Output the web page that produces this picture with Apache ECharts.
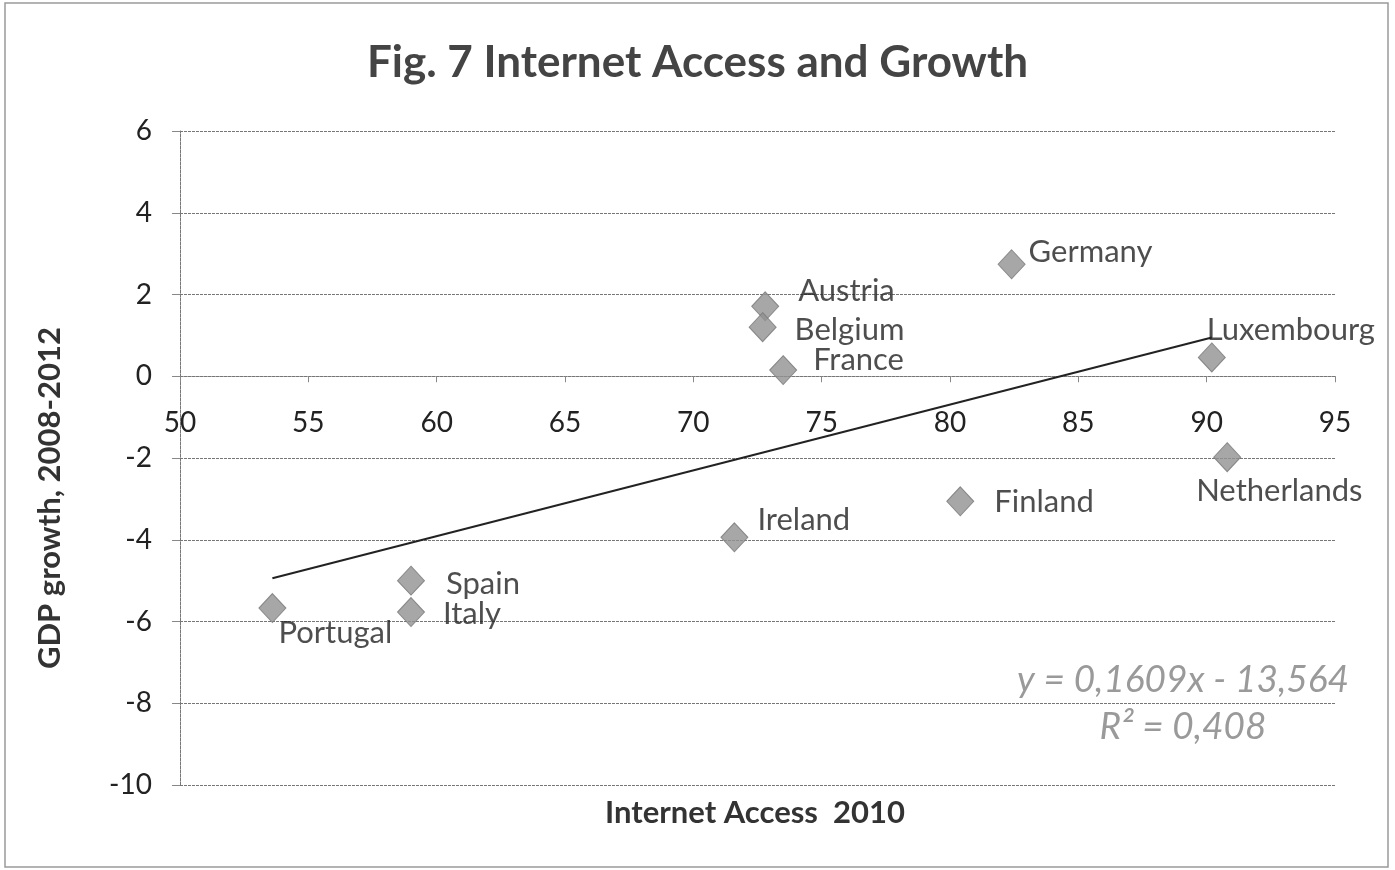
<!DOCTYPE html>
<html>
<head>
<meta charset="utf-8">
<title>Fig. 7 Internet Access and Growth</title>
<script src="https://cdn.jsdelivr.net/npm/echarts@6/dist/echarts.min.js"></script>
<style>
  html, body { margin: 0; padding: 0; background: #fff; }
  #chart { width: 1395px; height: 870px; }
</style>
</head>
<body>
<div id="chart"></div>
<script>
// Country observations: internet access (2010) vs GDP growth (2008-2012)
const countries      = ['Portugal', 'Spain', 'Italy', 'Ireland', 'Austria', 'Belgium', 'France', 'Finland', 'Germany', 'Luxembourg', 'Netherlands'];
const internetAccess = [53.6, 59.0, 59.0, 71.6, 72.8, 72.7, 73.5, 80.4, 82.4, 90.2, 90.8];
const gdpGrowth      = [-5.67, -5.0, -5.77, -3.94, 1.71, 1.2, 0.15, -3.06, 2.74, 0.46, -1.98];

// Linear trend: y = 0,1609x - 13,564 ; R² = 0,408
const trendSlope = 0.1609;
const trendIntercept = -13.564;
const trendRange = [53.6, 90.2];
const trendText = ['y = 0,1609x - 13,564', 'R² = 0,408'];

const xTicks = { min: 50, max: 95, interval: 5 };
const yTicks = { min: -10, max: 6, interval: 2 };

// Label placement around each marker (pixel offsets)
const labelOffsets = {
  Portugal: [-8, 25], Spain: [21, 3], Italy: [18, 2], Ireland: [9, -17],
  Austria: [19, -15], Belgium: [18, 3], France: [16, -10], Finland: [20, 1],
  Germany: [3, -12], Luxembourg: [-19, -27], Netherlands: [-45, 34]
};

const FONT = 'Lato, "Open Sans", sans-serif';

// Plot area
const GRID = { left: 180, right: 60, top: 131, bottom: 85 };
const plotHeight = 870 - GRID.top - GRID.bottom;
// The horizontal axis crosses the vertical axis at y = 0
const xAxisOffset = -plotHeight * (0 - yTicks.min) / (yTicks.max - yTicks.min);

const points = countries.map((name, i) => ({
  name: name,
  value: [internetAccess[i], gdpGrowth[i]],
  label: { offset: labelOffsets[name] }
}));

const trendData = trendRange.map(x => [x, trendSlope * x + trendIntercept]);

const chart = echarts.init(document.getElementById('chart'), null, { renderer: 'canvas' });

chart.setOption({
  backgroundColor: '#ffffff',
  animation: false,
  title: {
    text: 'Fig. 7 Internet Access and Growth',
    left: 'center',
    top: 36,
    textStyle: { fontFamily: FONT, fontWeight: 'bold', fontSize: 44, color: '#444' }
  },
  grid: { left: GRID.left, right: GRID.right, top: GRID.top, bottom: GRID.bottom, containLabel: false },
  xAxis: {
    type: 'value',
    min: xTicks.min, max: xTicks.max, interval: xTicks.interval,
    offset: xAxisOffset,
    axisLine: { onZero: false, lineStyle: { color: '#777', width: 1, type: [3, 1] } },
    axisTick: { show: true, length: 6, lineStyle: { color: '#888' } },
    axisLabel: { margin: 33, fontFamily: FONT, fontSize: 28, color: '#222' },
    splitLine: { show: false }
  },
  yAxis: {
    type: 'value',
    min: yTicks.min, max: yTicks.max, interval: yTicks.interval,
    axisLine: { show: true, lineStyle: { color: '#777', width: 1, type: [3, 1] } },
    axisTick: { show: true, length: 8, lineStyle: { color: '#888' } },
    axisLabel: { margin: 28, fontFamily: FONT, fontSize: 28, color: '#222' },
    splitLine: { show: true, lineStyle: { color: '#777', width: 1, type: [3, 1] } }
  },
  graphic: [
    {
      type: 'rect', silent: true, z: -1,
      shape: { x: 5, y: 3, width: 1383, height: 864 },
      style: { fill: 'none', stroke: '#9a9a9a', lineWidth: 1.5 }
    },
    {
      type: 'text', x: 50, y: 498, rotation: Math.PI / 2,
      style: {
        text: 'GDP growth, 2008-2012', fontFamily: FONT, fontWeight: 'bold', fontSize: 31,
        fill: '#333', align: 'center', verticalAlign: 'middle'
      }
    },
    {
      type: 'text', x: 755, y: 813,
      style: {
        text: 'Internet Access  2010', fontFamily: FONT, fontWeight: 'bold', fontSize: 31,
        fill: '#333', align: 'center', verticalAlign: 'middle'
      }
    },
    {
      type: 'text', x: 1183, y: 680,
      style: {
        text: trendText[0], fontFamily: FONT, fontStyle: 'italic', fontSize: 37,
        fill: '#9a9a9a', align: 'center', verticalAlign: 'middle'
      }
    },
    {
      type: 'text', x: 1183, y: 727,
      style: {
        text: trendText[1], fontFamily: FONT, fontStyle: 'italic', fontSize: 37,
        fill: '#9a9a9a', align: 'center', verticalAlign: 'middle'
      }
    }
  ],
  series: [
    {
      name: 'Trend',
      type: 'line',
      data: trendData,
      symbol: 'none',
      lineStyle: { color: '#222', width: 2 },
      z: 2
    },
    {
      name: 'Countries',
      type: 'scatter',
      data: points,
      symbol: 'diamond',
      symbolSize: [27, 29],
      itemStyle: { color: '#919191', borderColor: '#777', borderWidth: 1 },
      label: {
        show: true,
        position: 'right',
        distance: 0,
        formatter: '{b}',
        fontFamily: FONT,
        fontSize: 31,
        color: '#222'
      },
      z: 3
    }
  ]
});
</script>
</body>
</html>
